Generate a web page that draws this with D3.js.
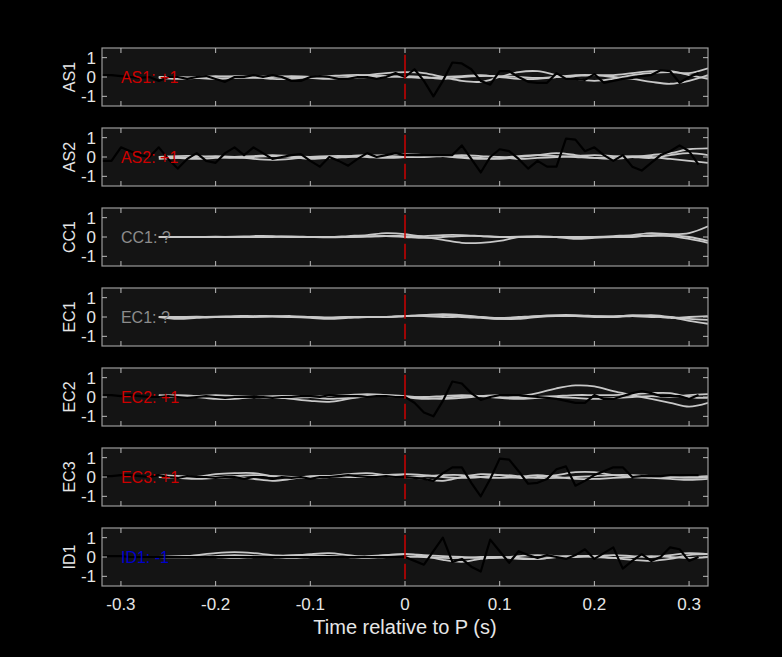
<!DOCTYPE html>
<html>
<head>
<meta charset="utf-8">
<script src="https://cdn.jsdelivr.net/npm/d3@7"></script>
<style>
  body { margin: 0; background: #000; }
  text { font-family: "Liberation Sans", Arial, sans-serif; }
</style>
</head>
<body>
<svg id="chart" width="782" height="657"></svg>
<script>
// stations, polarity labels and label colours
var stations = ["AS1", "AS2", "CC1", "EC1", "EC2", "EC3", "ID1"];
var polarity = ["+1", "+1", "?", "?", "+1", "+1", "-1"];
var polColor = ["#cc0000", "#cc0000", "#8c8c8c", "#8c8c8c", "#cc0000", "#cc0000", "#0000cc"];

// black trace: t = -0.32 .. 0.31 step 0.01
var blackStart = -0.32, blackStep = 0.01;
var blackAS1 = [0.1,0.1,0.05,0,-0.05,0,-0.2,0,0,-0.1,0,0.05,-0.1,-0.25,0,0,0.1,0,0.1,0,-0.2,-0.2,0,0.05,0,-0.1,-0.1,0,0,-0.1,0,0.2,
                0,0.4,-0.2,-1.0,-0.2,0.75,0.7,0.4,-0.2,-0.4,0.3,0.3,0,-0.25,-0.3,-0.3,0.2,-0.1,-0.1,-0.15,0.15,-0.3,-0.2,-0.1,-0.05,0.05,0.1,0.35,0.3,-0.3,0,0.2];
var blackAS2 = [-0.2,-0.2,0.5,0.3,0.1,0,0.5,-0.1,-0.6,-0.1,0.2,-0.2,-0.3,0.2,0.5,0.1,0.5,0.2,-0.1,0,0.1,0.15,-0.2,-0.5,0,-0.2,-0.45,-0.1,0.2,0,0.1,0.2,
                0.1,0.1,0.1,0.1,0.1,0.1,0.6,-0.1,-0.8,0,0.4,0.3,-0.1,-0.6,-0.2,-0.5,-0.5,0.95,0.9,0.3,0.5,0.1,-0.2,0.1,-0.5,-0.7,-0.3,0.1,0.3,0.6,0.3,-0.4];
var blackCC1 = [];
var blackEC1 = [];
var blackEC2 = [0.1,0.1,0.05,0.1,0.05,0,0,0.05,0,-0.05,0,0.05,0,-0.05,0,0,0,0,-0.05,0,0,0.05,0.05,0,0.1,0.05,0.05,0.05,0,0.05,0.05,0,
                0,-0.3,-0.8,-1.0,-0.2,0.8,0.7,0.2,-0.15,0,0.1,0.1,0.1,0.05,0,-0.05,-0.1,-0.2,-0.3,-0.3,0.1,-0.1,-0.1,0.05,0.2,0.3,0.2,0.05,0.05,0.05,-0.1,0.1];
var blackEC3 = [0.05,0.05,0.1,0.1,0.05,0,0.1,0,-0.05,0.05,0,0,-0.05,0,0,-0.1,0,0,-0.1,0,-0.05,0,-0.1,0,0,0.05,0.1,0.05,0,0,0.05,0,
                0,-0.05,-0.1,-0.2,0.2,0.5,0.5,-0.3,-1.0,-0.1,0.95,0.9,0.3,-0.35,-0.3,-0.1,0.4,0.55,-0.45,-0.2,0.1,0.3,0.5,0.5,0,0.05,0.05,0.05,0.1,0.1,0.1,0.1];
var blackID1 = [0.05,0.05,0.05,0,0,0,0,0,0,0,0,0,0,0,0,0,0,0,0,0,0,0,0,0,0,0,0,0,0,0,0,0,
                0,-0.2,-0.4,0.3,1.0,-0.25,-0.1,-0.5,-0.75,0.9,0.3,-0.3,0.3,0.1,-0.05,0.1,0,-0.1,0.1,0.4,-0.1,0.2,0.5,-0.6,-0.2,0.15,-0.2,0,0.5,0.4,-0.2,0];
var blacks = [blackAS1, blackAS2, blackCC1, blackEC1, blackEC2, blackEC3, blackID1];

// gray (synthetic) traces: t = -0.26 .. 0.32 step 0.02, three per station
var grayStart = -0.26, grayStep = 0.02;
var grayAS1 = [
  [0,0,-0.05,-0.1,-0.05,0,0.05,0,-0.05,-0.1,0,0.1,0.2,0.25,0.2,0,-0.2,-0.25,0,0.25,0.3,0.1,-0.1,-0.2,-0.1,0.1,0.2,0.25,0.2,0.45],
  [0,-0.05,0,0.05,0,-0.05,0,0.05,0,0.05,0.1,0.1,0.05,0,-0.05,0,0.05,0.1,0,-0.1,-0.1,0,0.1,0.1,0,-0.1,-0.25,-0.35,-0.2,0.1],
  [-0.05,-0.1,-0.05,0,0.05,0,-0.1,-0.1,0,0,-0.05,0,0,0.05,0,-0.1,0,0.05,0.05,0,-0.05,0,0.05,0.1,0.1,0.2,0.3,0.3,0.1,-0.1]];
var grayAS2 = [
  [0,-0.05,-0.1,-0.05,0,0.05,0.1,0.05,0,-0.05,0,0.05,0.1,0.15,0.1,0.05,0,-0.05,-0.1,0,0.1,0.2,0.1,-0.05,-0.1,0,0.1,0.2,0.4,0.45],
  [-0.1,-0.05,0,0.05,0,-0.1,-0.15,-0.1,0,0.05,0.05,0,-0.05,0,0.1,0.05,-0.05,-0.1,-0.05,0.05,0.1,0.05,0,-0.05,0,0.05,0,-0.1,-0.2,-0.3],
  [0,0.05,0.05,0,-0.05,0,0.05,0,-0.1,-0.05,0.05,0.1,0.05,0,0,0.05,0.1,0.05,0,-0.1,-0.05,0,0.05,0.1,0.05,0,-0.05,0.1,0.2,0.1]];
var grayCC1 = [
  [0,0,0,0,0,0.05,0.05,0,0,0,0.05,0.1,0.2,0.15,0,-0.15,-0.3,-0.3,-0.2,0,0.05,0,-0.05,0,0.05,0.1,0.2,0.15,0.2,0.55],
  [0,0,0,0.02,0,0,0.02,0,0,0,0,0.02,0.05,0.05,0.05,0.1,0.1,0.05,0,0,0,0,-0.1,-0.05,0,0.05,0.05,0.05,-0.1,-0.3],
  [0,0,0,0,0.02,0,0,0.03,0,-0.02,0,0.03,0.05,0,-0.05,0,0.05,0.05,0,0.02,0,0,0,0,0,0,0.1,0.1,0,-0.2]];
var grayEC1 = [
  [0,-0.1,-0.05,0,0.02,0,0.03,0.05,0,-0.05,0,0,0,0.05,0.1,0.15,0.1,0,-0.1,-0.05,0.05,0.1,0.1,0.05,0,0.05,0.1,0,-0.2,-0.35],
  [0,0,0.02,0,0.05,0.05,0.05,0,-0.05,-0.1,-0.05,0,0,0.05,0.1,0.1,0.05,0,-0.05,0,0.05,0.05,0.05,0,0,0.1,0.05,-0.05,0,0.05],
  [0,0,0,0.02,0,0.02,0.02,0,0,-0.02,0,0,0,0.05,0.05,0,0,-0.05,-0.1,-0.1,0,0.05,0.05,0.05,0.05,0.05,0,0,-0.1,-0.15]];
var grayEC2 = [
  [0.1,0.05,0,-0.1,-0.1,0,0,-0.1,-0.2,-0.25,-0.1,0.05,0.1,0.05,-0.05,-0.1,-0.05,0.05,0.1,0.05,0.2,0.45,0.6,0.55,0.3,0.1,-0.1,-0.3,-0.5,-0.3],
  [0,0,0.05,0.1,0.05,0,-0.05,-0.05,0,0.05,0.1,0.15,0.1,0,-0.1,-0.05,0.05,0.05,0,-0.05,0,0.05,0.1,0.1,0.1,0.15,0.2,0.2,0,-0.05],
  [0.05,0.1,0.05,-0.05,-0.05,0,0.05,0.05,0,-0.1,-0.05,0.05,0.05,0,0,0.05,0.1,0.05,-0.05,-0.1,-0.05,0,-0.05,-0.1,-0.05,0,0.05,0,0.1,0.15]];
var grayEC3 = [
  [0.05,0.05,0,0.15,0.2,0.2,0.05,0,0,0.05,0.15,0.2,0.1,0,-0.1,-0.2,0,0.15,0.1,-0.05,0,0.1,0.25,0.25,0.1,0,-0.05,-0.1,-0.15,-0.1],
  [0,-0.05,-0.1,-0.05,0,-0.1,-0.2,-0.1,0.05,0.05,0,0,0.05,0,0.05,0.1,0.1,0,-0.05,0,0.1,0,-0.1,-0.1,-0.05,0,0.05,0,-0.05,0],
  [0.1,0.05,0,0,0.05,0.1,0.05,0,-0.05,0,0.05,0.05,0.1,0.15,0.1,0,-0.05,0,0.1,0.05,-0.05,-0.05,0,0.05,0.1,0.1,0.05,0,0,0.05]];
var grayID1 = [
  [0,0,0.1,0.2,0.25,0.2,0.1,0.05,0.15,0.2,0.1,0,0.1,0.15,0.05,-0.15,-0.25,-0.1,0,-0.05,-0.1,0,0.05,0.05,-0.05,-0.15,-0.2,-0.1,0.1,0.15],
  [0,0.05,0.05,0,-0.05,0,0.05,0.1,0.1,0.05,0,0.05,0.1,0.15,0.1,0.05,0,-0.05,-0.05,0.05,0.1,0.05,0,0.05,0.1,0.05,0,0.1,0.2,0.15],
  [0,-0.02,0,0.05,0.1,0.05,0,-0.05,0,0.05,0,-0.05,0,0,0,-0.05,-0.05,0,0,-0.1,-0.1,0,0.05,0,-0.05,0,0.05,0,-0.05,0]];
var grays = [grayAS1, grayAS2, grayCC1, grayEC1, grayEC2, grayEC3, grayID1];

var xTicks = [-0.3, -0.2, -0.1, 0, 0.1, 0.2, 0.3];
var yTicks = [-1, 0, 1];

var svg = d3.select("#chart");
var left = 102, right = 708, top0 = 48, panelH = 58, panelGap = 80;

var x = d3.scaleLinear().domain([-0.32, 0.32]).range([left, right]);

stations.forEach(function(name, i) {
    var top = top0 + i * panelGap;
    var y = d3.scaleLinear().domain([-1.5, 1.5]).range([top + panelH, top]);
    var g = svg.append("g");
    var clipId = "clip" + i;
    g.append("clipPath").attr("id", clipId).append("rect")
        .attr("x", left).attr("y", top).attr("width", right - left).attr("height", panelH);

    g.append("rect").attr("x", left).attr("y", top).attr("width", right - left).attr("height", panelH)
        .attr("fill", "#141414");

    var plot = g.append("g").attr("clip-path", "url(#" + clipId + ")");

    // synthetic traces
    var grayLine = d3.line()
        .x(function(d, j) { return x(grayStart + j * grayStep); })
        .y(function(d) { return y(d); })
        .curve(d3.curveCatmullRom);
    grays[i].forEach(function(tr) {
        plot.append("path").attr("d", grayLine(tr)).attr("fill", "none")
            .attr("stroke", "#c8c8c8").attr("stroke-width", 1.8);
    });

    // observed trace
    if (blacks[i].length) {
        var blackLine = d3.line()
            .x(function(d, j) { return x(blackStart + j * blackStep); })
            .y(function(d) { return y(d); });
        plot.append("path").attr("d", blackLine(blacks[i])).attr("fill", "none")
            .attr("stroke", "#000").attr("stroke-width", 2.2).attr("stroke-linejoin", "round");
    }

    // P arrival
    g.append("line").attr("x1", x(0)).attr("x2", x(0)).attr("y1", y(1.15)).attr("y2", y(-1.15))
        .attr("stroke", "#cc0000").attr("stroke-width", 1.5).attr("stroke-dasharray", "24,5");

    // polarity label
    g.append("text").attr("x", x(-0.3)).attr("y", y(0)).attr("dy", "0.36em")
        .attr("fill", polColor[i]).attr("font-size", 16)
        .text(name + ": " + polarity[i]);

    // frame and ticks
    g.append("rect").attr("x", left).attr("y", top).attr("width", right - left).attr("height", panelH)
        .attr("fill", "none").attr("stroke", "#9a9a9a").attr("stroke-width", 1.2);
    xTicks.forEach(function(t) {
        g.append("line").attr("x1", x(t)).attr("x2", x(t)).attr("y1", top).attr("y2", top + 5).attr("stroke", "#bbb");
        g.append("line").attr("x1", x(t)).attr("x2", x(t)).attr("y1", top + panelH).attr("y2", top + panelH - 5).attr("stroke", "#bbb");
    });
    yTicks.forEach(function(v) {
        g.append("line").attr("x1", left).attr("x2", left + 5).attr("y1", y(v)).attr("y2", y(v)).attr("stroke", "#bbb");
        g.append("line").attr("x1", right).attr("x2", right - 5).attr("y1", y(v)).attr("y2", y(v)).attr("stroke", "#bbb");
        g.append("text").attr("x", left - 6).attr("y", y(v)).attr("dy", "0.36em").attr("text-anchor", "end")
            .attr("fill", "#e6e6e6").attr("font-size", 17).text(v);
    });
    g.append("text").attr("transform", "translate(75," + y(0) + ") rotate(-90)")
        .attr("text-anchor", "middle").attr("fill", "#e6e6e6").attr("font-size", 16).text(name);
});

// x axis labels
var xAxisY = top0 + 6 * panelGap + panelH;
xTicks.forEach(function(t) {
    svg.append("text").attr("x", x(t)).attr("y", xAxisY + 24).attr("text-anchor", "middle")
        .attr("fill", "#e6e6e6").attr("font-size", 17).text(t);
});
svg.append("text").attr("x", x(0)).attr("y", xAxisY + 48).attr("text-anchor", "middle")
    .attr("fill", "#e6e6e6").attr("font-size", 20).text("Time relative to P (s)");
</script>
</body>
</html>
